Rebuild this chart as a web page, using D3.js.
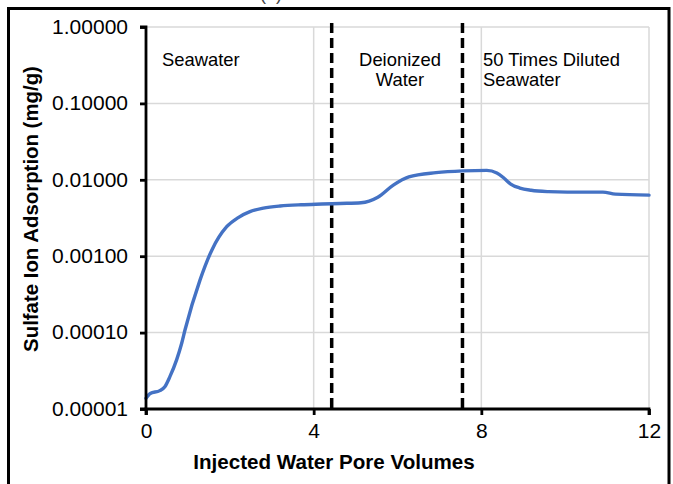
<!DOCTYPE html>
<html>
<head>
<meta charset="utf-8">
<script src="https://cdn.jsdelivr.net/npm/d3@7"></script>
<style>
  body { margin: 0; background: #fff; }
  svg { display: block; font-family: Arial, "Liberation Sans", sans-serif; }
</style>
</head>
<body>
<svg id="chart" width="673" height="484"></svg>
<script>
// injected pore volumes vs sulfate adsorption (mg/g)
var pv =      [0, 0.1, 0.33, 0.45, 0.57, 0.73, 0.85, 0.93, 1.29, 1.57, 1.925, 2.2, 2.48, 2.8, 3.2, 3.7, 4.2, 4.63, 5.13, 5.53, 5.9, 6.27, 6.92, 7.56, 8.13, 8.37, 8.55, 8.7, 8.92, 9.19, 9.6, 10.05, 10.9, 11.2, 12];
var sulfate = [0.0000138, 0.0000160, 0.0000174, 0.0000196, 0.0000265, 0.000044, 0.000072, 0.000108, 0.00049, 0.0012, 0.00243, 0.0032, 0.00383, 0.00425, 0.00454, 0.00472, 0.00482, 0.0049, 0.0050, 0.0059, 0.0085, 0.0109, 0.0124, 0.0131, 0.0133, 0.0123, 0.0104, 0.0088, 0.0078, 0.0073, 0.0070, 0.0069, 0.0069, 0.0065, 0.0063];
var xTicks = [0, 4, 8, 12];
var yTicks = [0.00001, 0.0001, 0.001, 0.01, 0.1, 1];
var phaseBreaks = [4.43, 7.55];
var phaseLabels = [
  {x: 0.38, lines: ["Seawater"], anchor: "start"},
  {x: 6.06, lines: ["Deionized", "Water"], anchor: "middle"},
  {x: 8.04, lines: ["50 Times Diluted", "Seawater"], anchor: "start"}
];

var svg = d3.select("#chart");
var pLeft = 146, pRight = 649, pTop = 27, pBottom = 409;

var x = d3.scaleLinear().domain([0, 12]).range([pLeft, pRight]);
var y = d3.scaleLog().domain([0.00001, 1]).range([pBottom, pTop]);

// outer frame + clipped caption
svg.append("rect").attr("x", 8.5).attr("y", 8.5).attr("width", 660.5).attr("height", 500)
  .attr("fill", "none").attr("stroke", "#000").attr("stroke-width", 3);
svg.append("text").attr("x", 271).attr("y", 0).attr("text-anchor", "middle")
  .attr("font-size", 18).attr("fill", "#444").text("(a)");

// gridlines
svg.append("g").selectAll("line").data(yTicks.slice(1)).enter().append("line")
  .attr("x1", pLeft).attr("x2", pRight)
  .attr("y1", function(d) { return y(d); }).attr("y2", function(d) { return y(d); })
  .attr("stroke", "#d9d9d9").attr("stroke-width", 1.5);
svg.append("g").selectAll("line").data(xTicks.slice(1)).enter().append("line")
  .attr("x1", function(d) { return x(d); }).attr("x2", function(d) { return x(d); })
  .attr("y1", pTop).attr("y2", pBottom)
  .attr("stroke", "#d9d9d9").attr("stroke-width", 1.5);

// phase separators
svg.append("g").selectAll("line").data(phaseBreaks).enter().append("line")
  .attr("x1", function(d) { return x(d); }).attr("x2", function(d) { return x(d); })
  .attr("y1", pTop - 4).attr("y2", pBottom)
  .attr("stroke", "#000").attr("stroke-width", 3.5).attr("stroke-dasharray", "10,5");

// phase labels
phaseLabels.forEach(function(p) {
  var t = svg.append("text").attr("font-size", 18.4).attr("fill", "#000")
    .attr("text-anchor", p.anchor);
  p.lines.forEach(function(l, i) {
    t.append("tspan").attr("x", x(p.x)).attr("y", 65.5 + i * 20).text(l);
  });
});

// curve
var line = d3.line()
  .x(function(d) { return x(d[0]); })
  .y(function(d) { return y(d[1]); })
  .curve(d3.curveMonotoneX);
svg.append("path").datum(d3.zip(pv, sulfate))
  .attr("d", line).attr("fill", "none")
  .attr("stroke", "#4472c4").attr("stroke-width", 3.4)
  .attr("stroke-linecap", "round");

// axes
var yAxis = svg.append("g").attr("transform", "translate(" + pLeft + ",0)")
  .call(d3.axisLeft(y).tickValues(yTicks).tickFormat(d3.format(".5f")).tickSize(6).tickPadding(12));
var xAxis = svg.append("g").attr("transform", "translate(0," + pBottom + ")")
  .call(d3.axisBottom(x).tickValues(xTicks).tickSize(6).tickPadding(8));
[yAxis, xAxis].forEach(function(a) {
  a.select(".domain").attr("stroke", "#000").attr("stroke-width", 2.8);
  a.selectAll(".tick line").attr("stroke", "#000").attr("stroke-width", 2.8);
  a.selectAll(".tick text").attr("font-size", 21).attr("fill", "#000")
    .attr("font-family", "Arial, 'Liberation Sans', sans-serif");
});
yAxis.selectAll(".tick text").attr("dy", "0.3em");
yAxis.select(".domain").attr("d", "M-6," + pTop + "H0V" + pBottom + "H-6");
xAxis.select(".domain").attr("d", "M" + pLeft + ",6V0H" + pRight + "V6");

// axis titles
svg.append("text").attr("x", 334).attr("y", 469)
  .attr("text-anchor", "middle").attr("font-size", 20.6).attr("font-weight", "bold")
  .text("Injected Water Pore Volumes");
svg.append("text").attr("transform", "translate(38,209) rotate(-90)")
  .attr("text-anchor", "middle").attr("font-size", 20.4).attr("font-weight", "bold")
  .text("Sulfate Ion Adsorption (mg/g)");
</script>
</body>
</html>
